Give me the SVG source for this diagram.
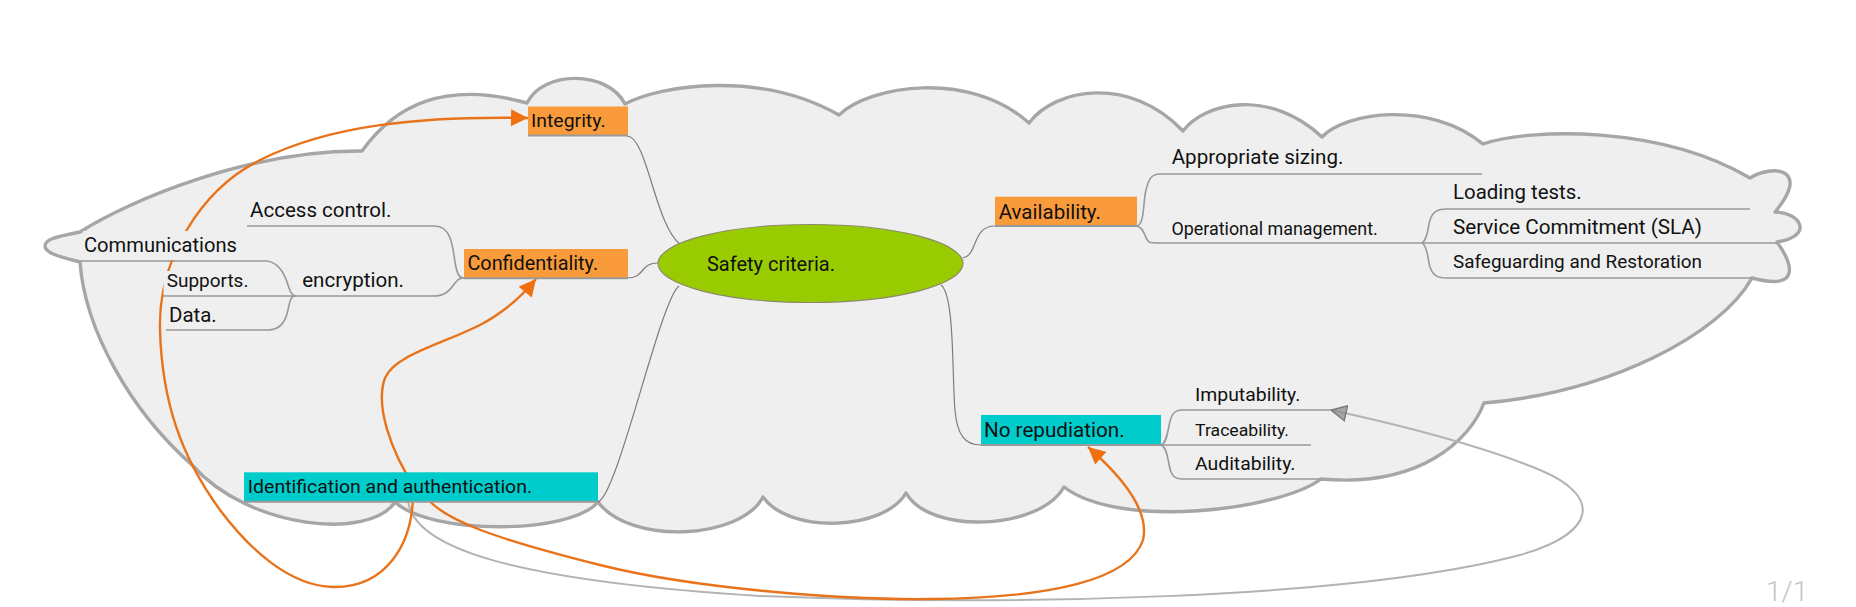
<svg xmlns="http://www.w3.org/2000/svg" width="1856" height="607" viewBox="0 0 1856 607">
<defs>
<style>
.cloud{fill:#efefef;stroke:#a6a6a6;stroke-width:3.4;stroke-linejoin:round}
.br{fill:none;stroke:#7d7d7d;stroke-width:1.2}
.ul{fill:none;stroke:#999;stroke-width:1.6}
.bl{stroke:#9a9a9a;stroke-width:2}
.ro{fill:none;stroke:#e8731a;stroke-width:2.4}
.rg{fill:none;stroke:#b3b3b3;stroke-width:2}
.t{font-family:Roboto,"Liberation Sans",sans-serif;fill:#111}
.org{fill:#f99b3a}
.cy{fill:#00cccc}
.bg{fill:#efefef}
</style>
<marker id="ao" viewBox="0 0 10 10" refX="10" refY="5" markerUnits="userSpaceOnUse" markerWidth="18" markerHeight="17" orient="auto">
<path d="M0,0 L10,5 L0,10 z" fill="#f07010"/>
</marker>
<marker id="ag" viewBox="0 0 10 10" refX="9.5" refY="5" markerUnits="userSpaceOnUse" markerWidth="17" markerHeight="17" orient="auto">
<path d="M0.5,0.5 L9.5,5 L0.5,9.5 z" fill="#8c8c8c" fill-opacity="0.75" stroke="#777" stroke-width="0.8"/>
</marker>
</defs>

<path id="cloud" class="cloud" d="M45,246 C45,238 62,236 80,232 C130,200 250,150 362,151 C395,105 445,80 527,103 C543,70 608,70 625,104 C660,85 760,70 839,115 C870,85 970,70 1029,123 C1055,88 1130,75 1183,131 C1205,102 1270,88 1322,137 C1345,112 1430,100 1483,144 C1530,128 1660,125 1750,178 C1772,164 1812,168 1775,212 C1800,212 1815,236 1777,242 C1790,260 1805,292 1752,278 C1720,335 1610,392 1484,403 C1470,440 1420,488 1321,479 C1280,510 1120,530 1064,487 C1040,530 930,535 906,493 C885,530 790,535 763,497 C740,540 630,545 598,502 C570,535 430,535 395,502 C370,540 250,530 192,465 C130,410 85,330 80,262 C65,258 45,254 45,246 Z"/>

<g id="connectors">
<path class="br" d="M627,136 C647,136 655,225 680,244"/>
<path class="br" d="M627,278 C645,278 640,263 658,263"/>
<path class="br" d="M598,502 C618,495 660,300 679,286"/>
<path class="br" d="M963,258 C978,255 972,226 995,226"/>
<path class="br" d="M941,285 C955,295 952,380 955,410 C957,435 965,445 981,445"/>
<path class="ul" d="M247,226 L435,226 C452,226 453,250 455,262 C457,274 459,278 464,278"/>
<path class="ul" d="M163,296 L433,296 C450,296 453,284 456,282 C458,279 460,278 464,278"/>
<path class="ul" d="M80,261 L267,261 C281,263 286,278 289,288 C291,294 293,296 296,296"/>
<path class="ul" d="M166,330 L268,330 C281,330 286,320 288,310 C290,300 291,296 295,296"/>
<path class="ul" d="M1137,226 C1145,224 1143,200 1146,190 C1149,178 1152,174 1160,174 L1482,174"/>
<path class="ul" d="M1137,226 C1145,228 1144,238 1149,242 C1151,243 1155,243 1160,243 L1777,243"/>
<path class="ul" d="M1422,243 C1428,240 1428,225 1430,220 C1433,211 1438,209 1447,209 L1750,209"/>
<path class="ul" d="M1422,243 C1428,246 1428,262 1430,267 C1433,276 1438,278 1447,278 L1752,278"/>
<path class="ul" d="M1161,445 C1168,443 1168,425 1171,418 C1173,412 1176,410 1182,410 L1330,410"/>
<path class="ul" d="M1161,445 L1311,445"/>
<path class="ul" d="M1161,445 C1168,447 1168,465 1171,472 C1173,477 1176,479 1182,479 L1321,479"/>
<path class="rg" marker-end="url(#ag)" d="M408,500 C412,545 500,580 760,596 C1000,606 1350,600 1520,555 C1600,532 1600,495 1540,470 C1480,445 1400,425 1331,410"/>
<path class="ro" marker-end="url(#ao)" d="M413,490 C414,545 385,588 333,587 C290,586 250,550 220,510 C180,455 162,400 160,330 C158,260 200,190 260,160 C330,125 420,116 528,118"/>
<path class="ro" marker-end="url(#ao)" d="M416,490 C390,450 375,405 385,378 C395,355 440,345 480,325 C505,312 522,296 536,279"/>
<path class="ro" marker-end="url(#ao)" d="M425,495 C440,520 500,540 600,565 C700,590 850,600 930,599 C1050,598 1130,580 1143,540 C1150,510 1120,475 1088,447"/>
</g>

<g id="n-safety">
<ellipse cx="810.5" cy="263.5" rx="152.5" ry="39" fill="#99cc00" stroke="#8a8a6a" stroke-width="1.2"/>
<text class="t" x="707" y="270.7" font-size="20" textLength="128" lengthAdjust="spacingAndGlyphs">Safety criteria.</text>
</g>
<g id="n-integrity">
<rect class="org" x="528" y="106.5" width="100" height="29"/>
<line class="bl" x1="528" y1="135.5" x2="628" y2="135.5"/>
<text class="t" x="531" y="127" font-size="19" textLength="74.5" lengthAdjust="spacingAndGlyphs">Integrity.</text>
</g>
<g id="n-confidentiality">
<rect class="org" x="464" y="249" width="164" height="29.3"/>
<line class="bl" x1="464" y1="278.3" x2="628" y2="278.3"/>
<text class="t" x="467.4" y="270" font-size="19.5" textLength="130.8" lengthAdjust="spacingAndGlyphs">Confidentiality.</text>
</g>
<g id="n-availability">
<rect class="org" x="995" y="196.7" width="142" height="29.3"/>
<line class="bl" x1="995" y1="226" x2="1137" y2="226"/>
<text class="t" x="998.7" y="219.3" font-size="20" textLength="102.2" lengthAdjust="spacingAndGlyphs">Availability.</text>
</g>
<g id="n-norepudiation">
<rect class="cy" x="981" y="415" width="180" height="30"/>
<line class="bl" x1="981" y1="445" x2="1161" y2="445"/>
<text class="t" x="984" y="436.7" font-size="20" textLength="140.6" lengthAdjust="spacingAndGlyphs">No repudiation.</text>
</g>
<g id="n-identification">
<rect class="cy" x="244" y="472.3" width="354" height="29.4"/>
<line class="bl" x1="244" y1="501.7" x2="598" y2="501.7"/>
<text class="t" x="247.8" y="493.3" font-size="19" textLength="284.3" lengthAdjust="spacingAndGlyphs">Identification and authentication.</text>
</g>
<g id="n-access">
<text class="t" x="250" y="217.3" font-size="20" textLength="141.5" lengthAdjust="spacingAndGlyphs">Access control.</text>
</g>
<g id="n-encryption">
<text class="t" x="302.2" y="286.7" font-size="20" textLength="101.8" lengthAdjust="spacingAndGlyphs">encryption.</text>
</g>
<g id="n-communications">
<rect class="bg" x="83" y="231" width="160" height="29"/>
<text class="t" x="84" y="251.7" font-size="20" textLength="153" lengthAdjust="spacingAndGlyphs">Communications</text>
</g>
<g id="n-supports">
<rect class="bg" x="163.5" y="271" width="90" height="24"/>
<text class="t" x="166.7" y="287.3" font-size="19" textLength="81.7" lengthAdjust="spacingAndGlyphs">Supports.</text>
</g>
<g id="n-data">
<text class="t" x="169" y="321.7" font-size="20" textLength="47.7" lengthAdjust="spacingAndGlyphs">Data.</text>
</g>
<g id="n-sizing">
<text class="t" x="1171.7" y="164" font-size="20" textLength="171.7" lengthAdjust="spacingAndGlyphs">Appropriate sizing.</text>
</g>
<g id="n-operational">
<text class="t" x="1171.4" y="235" font-size="17.5" textLength="206.4" lengthAdjust="spacingAndGlyphs">Operational management.</text>
</g>
<g id="n-loading">
<text class="t" x="1453" y="199.3" font-size="20" textLength="128.6" lengthAdjust="spacingAndGlyphs">Loading tests.</text>
</g>
<g id="n-sla">
<text class="t" x="1453" y="234" font-size="20.5" textLength="249" lengthAdjust="spacingAndGlyphs">Service Commitment (SLA)</text>
</g>
<g id="n-safeguarding">
<text class="t" x="1453" y="268.3" font-size="18.5" textLength="249" lengthAdjust="spacingAndGlyphs">Safeguarding and Restoration</text>
</g>
<g id="n-imputability">
<text class="t" x="1195" y="401" font-size="19" textLength="105.4" lengthAdjust="spacingAndGlyphs">Imputability.</text>
</g>
<g id="n-traceability">
<text class="t" x="1195" y="436" font-size="17" textLength="94" lengthAdjust="spacingAndGlyphs">Traceability.</text>
</g>
<g id="n-auditability">
<text class="t" x="1195" y="470" font-size="19" textLength="100.4" lengthAdjust="spacingAndGlyphs">Auditability.</text>
</g>
<text id="page" x="1766" y="601" font-family="Roboto,'Liberation Sans',sans-serif" font-size="28" font-weight="300" fill="#c4c4c4">1/1</text>
</svg>
